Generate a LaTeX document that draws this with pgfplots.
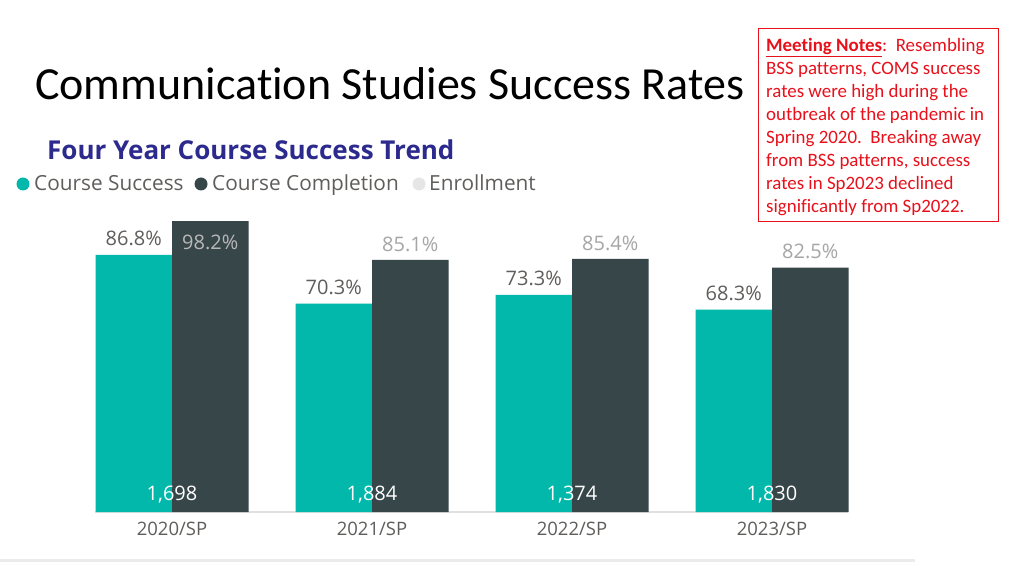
\documentclass[border=0pt]{standalone}
\usepackage{pgfplots}
\pgfplotsset{compat=1.18}
\usepackage{fontspec}
\setmainfont{Open Sans}
\newfontfamily\calibri[Ligatures=NoCommon]{Carlito}
\newfontfamily\segoe{Open Sans}
\definecolor{teal1}{HTML}{01B8AA}
\definecolor{dark1}{HTML}{374649}
\definecolor{enr}{HTML}{E6E6E6}
\definecolor{lab1}{HTML}{605E5C}
\definecolor{lab2}{HTML}{A6A6A6}
\definecolor{titleblue}{HTML}{2D2A8E}
\definecolor{notered}{HTML}{E8101A}
\begin{document}
\begin{tikzpicture}[x=1pt,y=1pt]
\path[use as bounding box,fill=white] (0,0) rectangle (1024,576);
% slide title
\node[anchor=base west,inner sep=0pt,font=\calibri\fontsize{46}{52}\selectfont] at (35,476) {Communication Studies Success Rates};
% note box
\draw[notered,line width=1pt] (758,354) rectangle (998,547);
\node[anchor=north west,inner sep=0pt,align=left,text=notered,font=\calibri\fontsize{18.9}{23}\selectfont] at (766,538)
{\textbf{\underline{Meeting Notes}}:\ \ Resembling\\ BSS patterns, COMS success\\ rates were high during the\\ outbreak of the pandemic in\\ Spring 2020.\ \ Breaking away\\ from BSS patterns, success\\ rates in Sp2023 declined\\ significantly from Sp2022.};
% subtitle
\node[anchor=base west,inner sep=0pt,text=titleblue,font=\segoe\bfseries\fontsize{26}{30}\selectfont] at (47,416) {Four Year Course Success Trend};
% legend
\fill[teal1] (23,392) circle (6.5);
\node[anchor=base west,inner sep=0pt,text=lab1,font=\segoe\fontsize{20.8}{24}\selectfont] at (34,385) {Course Success};
\fill[dark1] (201,392) circle (6.5);
\node[anchor=base west,inner sep=0pt,text=lab1,font=\segoe\fontsize{20.8}{24}\selectfont] at (212,385) {Course Completion};
\fill[enr] (419,392) circle (6.5);
\node[anchor=base west,inner sep=0pt,text=lab1,font=\segoe\fontsize{20.8}{24}\selectfont] at (429,385) {Enrollment};
% bottom rule
\fill[black!8] (0,14) rectangle (915,17);
\begin{axis}[
  at={(95pt,64pt)}, anchor=south west,
  scale only axis, width=753pt, height=296.3pt,
  xmin=-0.385, xmax=3.38, ymin=0, ymax=100,
  axis y line=none, axis x line*=bottom,
  x axis line style={draw=black!12,line width=2pt,-},
  xtick={0,1,2,3}, xticklabels={2020/SP,2021/SP,2022/SP,2023/SP},
  major tick length=0pt,
  xticklabel style={text=lab1,font=\segoe\fontsize{18.5}{20}\selectfont,yshift=-7pt},
  ybar, bar width=76.5pt,
  clip=false,
  /pgf/number format/assume math mode=true,
]
\addplot[fill=teal1,draw=none,bar shift=-38.25pt,
  nodes near coords={\pgfmathprintnumber[fixed,precision=1,fixed zerofill]{\pgfplotspointmeta}\%},
  every node near coord/.append style={text=lab1,font=\segoe\fontsize{20}{22}\selectfont,anchor=south,yshift=5pt}]
  coordinates {(0,86.8) (1,70.3) (2,73.3) (3,68.3)};
\addplot[fill=dark1,draw=none,bar shift=38.25pt]
  coordinates {(0,98.2) (1,85.1) (2,85.4) (3,82.5)};
% completion labels above bars
\addplot[draw=none,fill=none,bar shift=38.25pt,
  nodes near coords={\pgfmathprintnumber[fixed,precision=1,fixed zerofill]{\pgfplotspointmeta}\%},
  every node near coord/.append style={text=lab2,font=\segoe\fontsize{20}{22}\selectfont,anchor=south,yshift=5pt}]
  coordinates {(1,85.1) (2,85.4) (3,82.5)};
% completion label inside bar (no room above)
\addplot[draw=none,fill=none,bar shift=38.25pt,
  nodes near coords={\pgfmathprintnumber[fixed,precision=1,fixed zerofill]{\pgfplotspointmeta}\%},
  every node near coord/.append style={text=black!28,font=\segoe\fontsize{20}{22}\selectfont,anchor=north,yshift=-10pt}]
  coordinates {(0,98.2)};
% enrollment labels
\addplot[draw=none,fill=none,bar shift=0pt,point meta=explicit,
  nodes near coords={\pgfmathprintnumber[fixed,precision=0,1000 sep={,}]{\pgfplotspointmeta}},
  every node near coord/.append style={text=white,font=\segoe\fontsize{20}{22}\selectfont,anchor=south,yshift=5pt}]
  coordinates {(0,0) [1698] (1,0) [1884] (2,0) [1374] (3,0) [1830]};
\end{axis}
\end{tikzpicture}
\end{document}
